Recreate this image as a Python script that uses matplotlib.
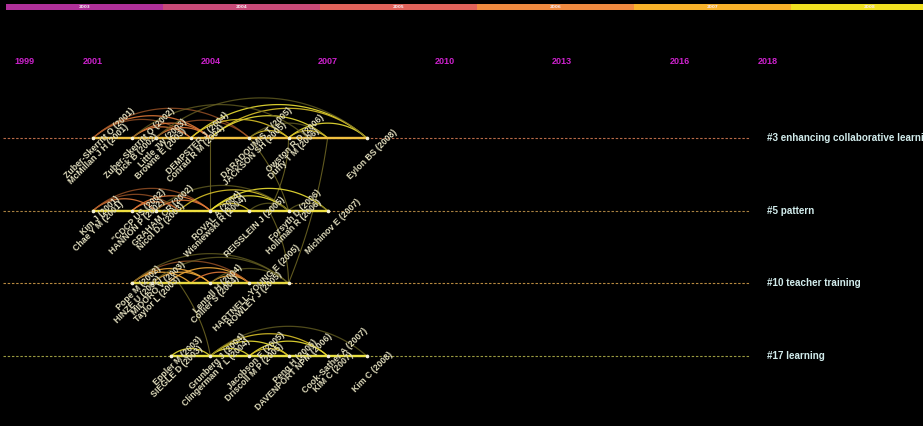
import numpy as np
import matplotlib.pyplot as plt

# timeline view data, one cluster per row
clusters = ["#3 enhancing collaborative learning", "#5 pattern", "#10 teacher training", "#17 learning"]
span_start = [2001, 2001, 2002, 2003]
span_end = [2008, 2007, 2006, 2008]

# node labels and the year position of the node they sit on
c3_labels = ["Zuber-Skerritt O (2001)", "McMillan J H (2001)", "Zuber-Skerritt O (2002)", "Dick B (2002)",
             "Little JW (2003)", "Browne E (2003)", "DEMPSTER J (2004)", "Conrad R M (2004)",
             "DARADOUMIS T (2005)", "JACKSON SH (2005)", "Owston R D (2006)", "Duffy T M (2006)",
             "Eylon BS (2008)"]
c3_pos = [2001, 2001, 2002, 2002, 2002.6, 2002.6, 2003.5, 2003.5, 2005, 2005, 2006, 2006, 2008]

c5_labels = ["Kim J (2001)", "Chae Y M (2001)", '"CDCP US (2002)', "HANNON P (2002)",
             "GRAHAM CR (2002)", "Nicol DJ (2003)", "ROVAL A (2004)", "Wisniewski R (2004)",
             "REISSLEIN J (2005)", "Forsyth D (2006)", "Holliman R (2006)", "Michinov E (2007)"]
c5_pos = [2001, 2001, 2002, 2002, 2002.6, 2002.6, 2004, 2004, 2005, 2006, 2006, 2007]

c10_labels = ["Pope M (2002)", "HINZE U (2002)", "MIDORO V (2003)", "Taylor L (2003)",
              "Lentell H (2004)", "Collier S (2004)", "HARTNELL-YOUNG E (2005)", "ROWLEY J (2005)"]
c10_pos = [2002, 2002, 2002.5, 2002.5, 2004, 2004, 2005, 2005]

c17_labels = ["Eppler M (2003)", "SIEGLE D (2003)", "Grunberg J (2004)", "Clingerman Y L (2004)",
              "Jacobson E (2005)", "Driscoll M P (2005)", "Peng H (2006)", "DAVENPORT NPM (2006)",
              "Cook-Sather A (2007)", "KIM C (2007)", "Kim C (2008)"]
c17_pos = [2003, 2003, 2004, 2004, 2005, 2005, 2006, 2006, 2007, 2007, 2008]

# co-citation arcs inside a cluster: (from, to, link year)
c3_arcs = [(2001, 2004, 2004), (2001, 2003.5, 2003), (2002, 2004, 2004), (2002, 2003.5, 2004),
           (2002.6, 2004, 2004), (2002.6, 2005, 2003), (2001, 2005, 2003), (2003.5, 2008, 2007),
           (2004, 2008, 2006), (2004, 2007, 2007), (2003.5, 2006, 2006), (2005, 2006, 2006),
           (2005, 2007, 2008), (2006, 2008, 2007), (2006, 2007, 2006), (2002, 2006.5, 2008),
           (2002.6, 2008, 2008)]
c5_arcs = [(2001, 2004, 2003), (2001, 2002.6, 2004), (2002, 2004, 2004), (2002, 2003.2, 2004),
           (2002.6, 2004, 2004), (2001, 2003.2, 2003), (2003.2, 2006, 2006), (2004, 2007, 2007),
           (2004, 2005, 2006), (2004, 2006, 2007), (2005, 2006, 2008), (2006, 2007, 2008),
           (2002.6, 2006, 2008)]
c10_arcs = [(2002, 2004, 2005), (2002, 2003.5, 2005), (2002.5, 2004, 2005), (2002.9, 2005, 2005),
            (2003.5, 2005, 2004), (2004, 2005, 2005), (2002, 2005, 2003), (2002.5, 2006, 2008),
            (2002, 2006, 2008), (2004, 2006, 2008)]
c17_arcs = [(2003, 2004, 2007), (2004, 2005, 2007), (2004, 2006, 2007), (2004, 2007, 2006),
            (2004, 2008, 2008), (2005, 2007, 2007), (2005, 2006, 2006)]

# links between clusters: (row a, year a, row b, year b)
cross_links = [(0, 2004, 1, 2004), (0, 2005, 1, 2006), (0, 2007, 2, 2006),
               (1, 2005.5, 2, 2006), (2, 2003.2, 3, 2004), (0, 2006, 1, 2005.5)]

slice_years = [2003, 2004, 2005, 2006, 2007, 2008]
slice_colors = ["#b0309a", "#c84a78", "#e0625a", "#f08a40", "#f8b22a", "#f0e020"]
axis_years = [1999, 2001, 2004, 2007, 2010, 2013, 2016, 2018]

link_colors = {2003: "#a85a2a", 2004: "#e07838", 2005: "#f0a838", 2006: "#d8c028",
               2007: "#ece034", 2008: "#6a6424"}
dash_colors = ["#b86a48", "#a88040", "#b88a40", "#9a9a40"]
line_colors = ["#f0c040", "#f0e040", "#e8d840", "#e8e040"]

W, H = 923, 426
px_yr = 39.1
row_px = 72.67

fig = plt.figure(figsize=(W / 100, H / 100), dpi=100, facecolor="black")
ax = fig.add_axes([0, 0, 1, 1])
ax.set_facecolor("black")
ax.axis("off")
ax.set_xlim(2001 - 93 / px_yr, 2001 + (W - 93) / px_yr)
ax.set_ylim((H - 138) / row_px, -138 / row_px)


def arc(row, a, b, color, lw=0.9, alpha=0.9):
    c = (b - a) * px_yr
    s = 0.19 * c
    R = (c * c / 4 + s * s) / (2 * s)
    phi = np.arcsin(c / 2 / R)
    t = np.linspace(-phi, phi, 50)
    xs = (a + b) / 2 + R * np.sin(t) / px_yr
    ys = row - (R * np.cos(t) - (R - s)) / row_px
    ax.plot(xs, ys, color=color, lw=lw, alpha=alpha, solid_capstyle="round", zorder=3)


all_labels = [c3_labels, c5_labels, c10_labels, c17_labels]
all_pos = [c3_pos, c5_pos, c10_pos, c17_pos]
all_arcs = [c3_arcs, c5_arcs, c10_arcs, c17_arcs]

# cross-cluster links
for ra, ya, rb, yb in cross_links:
    t = np.linspace(0, 1, 40)
    cx, cy = (ya + yb) / 2 + 0.25, (ra + rb) / 2
    xs = (1 - t) ** 2 * ya + 2 * (1 - t) * t * cx + t ** 2 * yb
    ys = (1 - t) ** 2 * ra + 2 * (1 - t) * t * cy + t ** 2 * rb
    if ya == yb:
        xs = np.full_like(t, ya)
    ax.plot(xs, ys, color="#6a6222", lw=0.8, alpha=0.9, zorder=2)

for row in range(4):
    ax.plot([1998.7, 2017.8], [row, row], color=dash_colors[row], lw=0.8,
            dashes=(2.2, 1.6), zorder=1)
    ax.plot([span_start[row], span_end[row]], [row, row], color=line_colors[row],
            lw=1.7, zorder=4)
    for a, b, yr in all_arcs[row]:
        alpha = 0.75 if yr in (2003, 2008) else 0.9
        arc(row, a, b, link_colors[yr], alpha=alpha)
    nodes = sorted(set(all_pos[row]) | {span_start[row], span_end[row]})
    ax.plot(nodes, [row] * len(nodes), "o", ms=1.6, color="#f4f0d8", zorder=5)

    labs, pos = all_labels[row], all_pos[row]
    for i, (lab, p) in enumerate(zip(labs, pos)):
        n = pos.count(p)
        k = i - pos.index(p)
        j = n - 1 - k  # rows above the bottom one
        dx = (5.5 + 1.5 * j) * 0.72
        dy = -(16 - 11 * j) * 0.72
        ax.annotate(lab, (p, row), xytext=(dx, dy), textcoords="offset points",
                    rotation=45, ha="center", va="center", rotation_mode="anchor",
                    fontsize=6.3, fontweight="bold", family="Liberation Sans",
                    color="#e0dcbc", zorder=6)

    ax.text(2001 + (767 - 93) / px_yr, row, clusters[row], fontsize=7.1, fontweight="bold",
            family="Liberation Sans", color="#d2ecec", ha="left", va="center")

# year axis
for i, yr in enumerate(axis_years):
    ha = "left" if i in (0, len(axis_years) - 1) else "center"
    ax.text(yr, (62 - 138) / row_px, str(yr), fontsize=6.5, fontweight="bold",
            family=["Liberation Sans Narrow", "Liberation Sans"], color="#cc22cc",
            ha=ha, va="center")

# time slice bar on top
bar = fig.add_axes([6 / W, 1 - 10 / H, 942 / W, 6 / H])
bar.axis("off")
bar.barh(0, [1] * len(slice_years), left=np.arange(len(slice_years)), height=1,
         color=slice_colors)
bar.set_xlim(0, len(slice_years))
bar.set_ylim(-0.5, 0.5)
for i, yr in enumerate(slice_years):
    bar.text(i + 0.5, 0, str(yr), fontsize=3, color="#f4e8f0", ha="center", va="center",
             fontweight="bold")

fig.savefig("out.png", dpi=100, facecolor="black")
